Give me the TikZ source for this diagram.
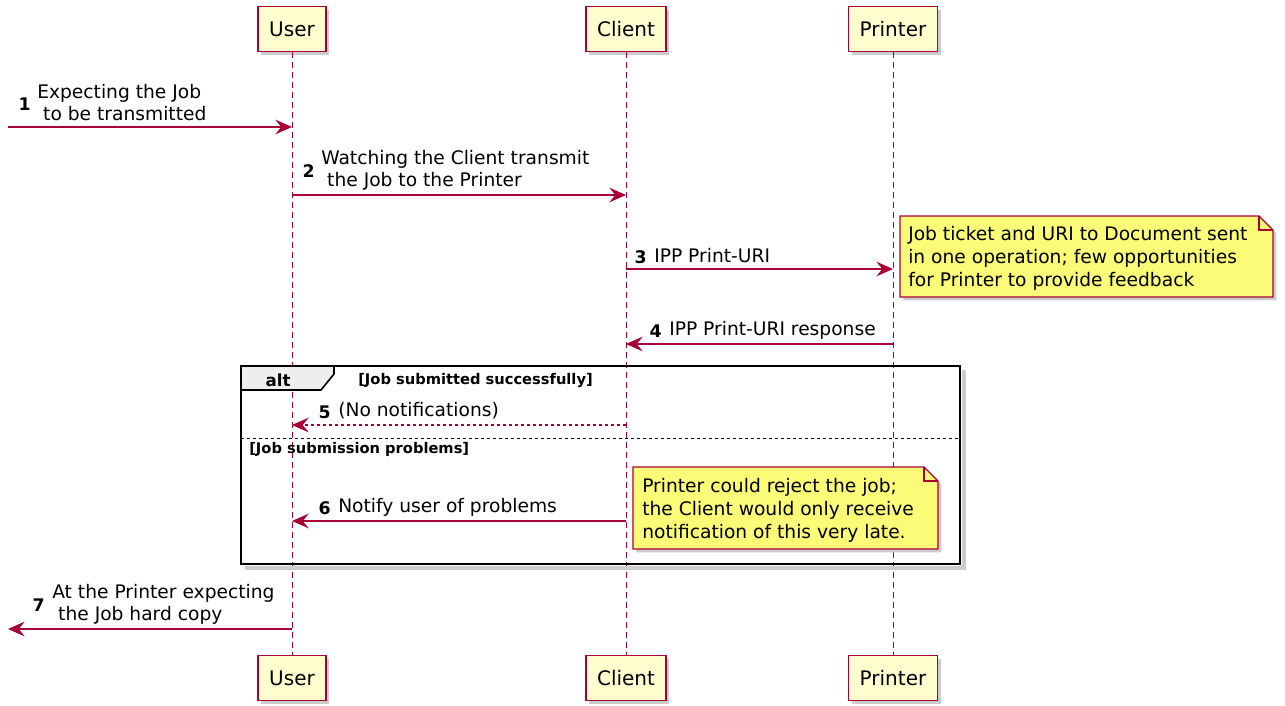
\documentclass[tikz,border=0pt]{standalone}
\usepackage{fontspec}
\setmainfont{DejaVu Sans}
\usepackage{tikz}
\usetikzlibrary{arrows.meta}
\usetikzlibrary{shadows}

\definecolor{umlred}{HTML}{A80036}
\definecolor{boxfill}{HTML}{FEFECE}
\definecolor{notefill}{HTML}{FBFB77}
\definecolor{tabfill}{HTML}{EEEEEE}

\tikzset{
  umlshadow/.style={drop shadow={shadow xshift=2.5pt, shadow yshift=-2.5pt, opacity=1, fill=black!20}},
  actor/.style={draw=umlred, fill=boxfill, line width=1.1pt, minimum height=34pt, inner xsep=8.3pt, font=\fontsize{15}{18}\selectfont, umlshadow},
  lifeline/.style={umlred, line width=0.75pt, dash pattern=on 4pt off 3.5pt},
  msg/.style={umlred, line width=1pt, -{Stealth[length=12.5pt, width=11pt, inset=4.5pt]}},
  reply/.style={msg, dash pattern=on 2.5pt off 2pt},
  msgtext/.style={align=left, anchor=west, inner sep=0pt, font=\fontsize{14}{16.5}\selectfont},
  msgnum/.style={anchor=east, inner sep=0pt, font=\bfseries\fontsize{13}{16}\selectfont},
  notebox/.style={draw=umlred, fill=notefill, line width=0.9pt, umlshadow},
  notetext/.style={align=left, anchor=west, inner sep=0pt, font=\fontsize{14}{17.25}\selectfont},
  frame/.style={draw=black, line width=1.8pt},
  guard/.style={anchor=west, inner sep=0pt, font=\bfseries\fontsize{11}{13}\selectfont}
}

\begin{document}
\begin{tikzpicture}[x=0.75pt, y=-0.75pt]
\useasboundingbox (0,0) rectangle (1285,706);
% participants
\node[actor] (userTop) at (292,29) {User};
\node[actor] (clientTop) at (626,29) {Client};
\node[actor] (printerTop) at (893,29) {Printer};
\node[actor] (userBot) at (292,678) {User};
\node[actor] (clientBot) at (626,678) {Client};
\node[actor] (printerBot) at (893,678) {Printer};
% lifelines
\draw[lifeline] (userTop) -- (userBot);
\draw[lifeline] (clientTop) -- (clientBot);
\draw[lifeline] (printerTop) -- (printerBot);
% message end points
\coordinate (in1) at (8,127);
\coordinate (u1) at (292,127);
\coordinate (u2) at (292,195);
\coordinate (c2) at (626,195);
\coordinate (c3) at (626,269);
\coordinate (p3) at (893,269);
\coordinate (p4) at (893,344);
\coordinate (c4) at (626,344);
\coordinate (c5) at (626,425);
\coordinate (u5) at (292,425);
\coordinate (c6) at (626,521);
\coordinate (u6) at (292,521);
\coordinate (u7) at (292,629);
\coordinate (out7) at (8,629);
% alt frame
\coordinate (altNW) at (241,366);
\coordinate (altSE) at (960,564);
\draw[black!20, line width=3pt] (245,568) -- (964,568) -- (964,370);
\draw[black, line width=1.2pt, fill=tabfill] (241,366) -- (334,366) -- (334,374) -- (321,390) -- (241,390);
\draw[frame] (altNW) rectangle (altSE);
\node[inner sep=0pt, font=\bfseries\fontsize{12.5}{15}\selectfont] (altLbl) at (278,380) {alt};
\node[guard] (guardOk) at (358,381) {[Job submitted successfully]};
\coordinate (sepL) at (241,438);
\coordinate (sepR) at (960,438);
\draw[black, line width=0.7pt, dash pattern=on 2.5pt off 2pt] (sepL) -- (sepR);
\node[guard] (guardBad) at (249,449) {[Job submission problems]};
% messages
\draw[msg] (in1) -- (u1);
\node[msgnum] (num1) at (31,104) {1};
\node[msgtext] (lbl1) at (37,103) {Expecting the Job\\~to be transmitted};
\draw[msg] (u2) -- (c2);
\node[msgnum] (num2) at (315,171) {2};
\node[msgtext] (lbl2) at (321,170) {Watching the Client transmit\\~the Job to the Printer};
\draw[msg] (c3) -- (p3);
\node[msgnum] (num3) at (647,257) {3};
\node[msgtext] (lbl3) at (654,256) {IPP Print-URI};
\draw[msg] (p4) -- (c4);
\node[msgnum] (num4) at (662,331) {4};
\node[msgtext] (lbl4) at (669,330) {IPP Print-URI response};
\draw[reply] (c5) -- (u5);
\node[msgnum] (num5) at (331,412) {5};
\node[msgtext] (lbl5) at (338,411) {(No notifications)};
\draw[msg] (c6) -- (u6);
\node[msgnum] (num6) at (331,508) {6};
\node[msgtext] (lbl6) at (338,507) {Notify user of problems};
\draw[msg] (u7) -- (out7);
\node[msgnum] (num7) at (45,605) {7};
\node[msgtext] (lbl7) at (52,604) {At the Printer expecting\\~the Job hard copy};
% notes
\draw[notebox] (900,216) -- (1259,216) -- (1273,230) -- (1273,297) -- (900,297) -- cycle;
\draw[umlred, line width=0.9pt] (1259,216) -- (1259,230) -- (1273,230);
\node[notetext] (note1) at (908,258) {Job ticket and URI to Document sent\\in one operation; few opportunities\\for Printer to provide feedback};
\draw[notebox] (633,467) -- (924,467) -- (938,481) -- (938,549) -- (633,549) -- cycle;
\draw[umlred, line width=0.9pt] (924,467) -- (924,481) -- (938,481);
\node[notetext] (note2) at (642,510) {Printer could reject the job;\\the Client would only receive\\notification of this very late.};
\end{tikzpicture}
\end{document}
